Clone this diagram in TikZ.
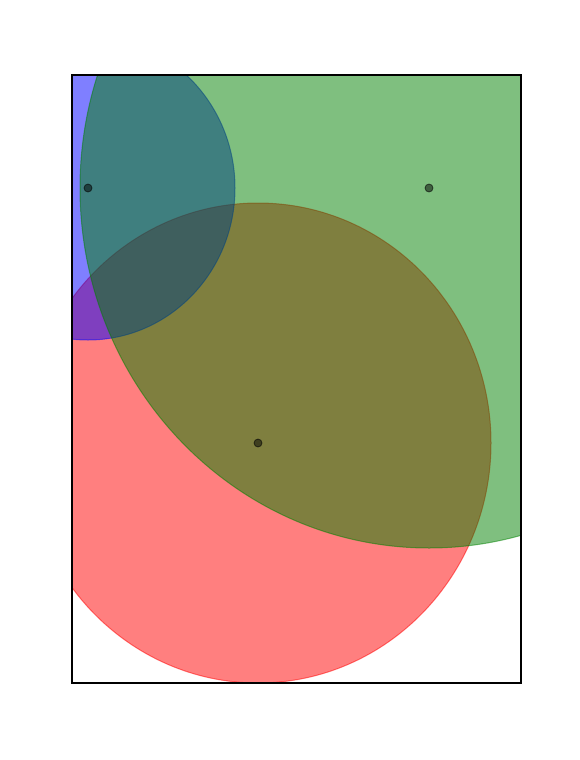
\documentclass[tikz,border=0pt]{standalone}
\usepackage{tikz}
\usetikzlibrary{positioning}
\definecolor{mplred}{HTML}{FF0000}
\definecolor{mplblue}{HTML}{0000FF}
\definecolor{mplgreen}{HTML}{008000}

\begin{document}
\begin{tikzpicture}[
  x=1pt, y=-1pt,
  disk/.style={fill=#1, draw=#1, fill opacity=0.5, draw opacity=0.5, line width=1pt},
  centre/.style={circle, fill=black, draw=black, fill opacity=0.5, draw opacity=0.6,
                 inner sep=0pt, minimum size=8pt, line width=0.8pt},
  frame/.style={draw=black, line width=1.1pt},
]
  \useasboundingbox (0,0) rectangle (580,760);

  % the axes area
  \coordinate (axnw) at (72,75);
  \coordinate (axse) at (521,683);

  % circles, clipped to the axes
  \begin{scope}
    \clip (axnw) rectangle (axse);
    \draw[disk=mplred]   (258,443) ellipse [x radius=233, y radius=240];
    \draw[disk=mplblue]  (88,188)  ellipse [x radius=147, y radius=152];
    \draw[disk=mplgreen] (429,188) ellipse [x radius=349, y radius=360];
  \end{scope}

  % centres
  \node[centre] (cred)   at (258,443) {};
  \node[centre] (cblue)  at (88,188)  {};
  \node[centre] (cgreen) at (429,188) {};

  \draw[frame] (axnw) rectangle (axse);
\end{tikzpicture}
\end{document}
